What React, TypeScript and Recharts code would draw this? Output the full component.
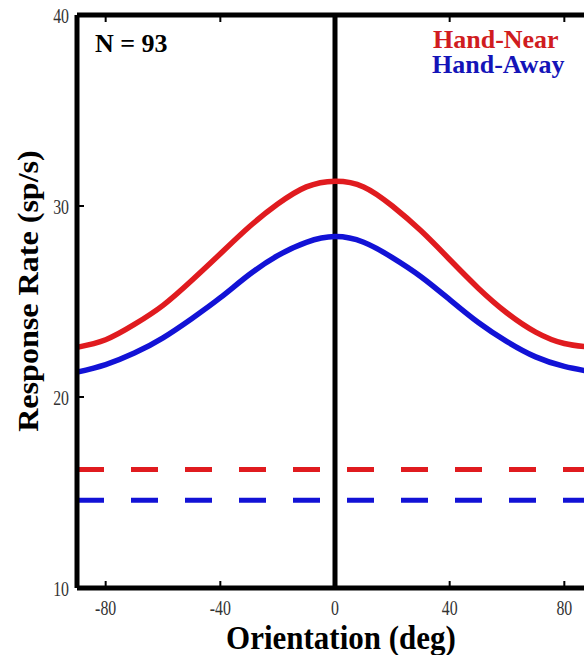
import React from 'react';
import {
  ComposedChart,
  Line,
  XAxis,
  YAxis,
  ReferenceLine,
} from 'recharts';

// orientation (deg) sampled along the tuning curves
const ORIENTATIONS = [-90, -80, -70, -60, -50, -40, -30, -20, -10, 0, 10, 20, 30, 40, 50, 60, 70, 80, 90];
const HAND_NEAR = [22.6, 23.0, 23.8, 24.8, 26.1, 27.5, 28.9, 30.1, 31.0, 31.3, 31.0, 30.0, 28.7, 27.2, 25.7, 24.4, 23.4, 22.8, 22.6];
const HAND_AWAY = [21.3, 21.7, 22.3, 23.1, 24.1, 25.2, 26.4, 27.4, 28.1, 28.4, 28.1, 27.3, 26.3, 25.1, 23.9, 22.9, 22.1, 21.6, 21.3];

// spontaneous (baseline) rates, dashed
const BASELINE_NEAR = 16.2;
const BASELINE_AWAY = 14.6;

const X_TICKS = [-80, -40, 0, 40, 80];
const Y_TICKS = [10, 20, 30, 40];

const RED = '#e01b1f';
const BLUE = '#1212d6';
const FONT = '"Liberation Serif", "Times New Roman", serif';

const data = ORIENTATIONS.map((deg, i) => ({
  deg,
  near: HAND_NEAR[i],
  away: HAND_AWAY[i],
}));

const XTick = (props: any) => {
  const { x, y, payload } = props;
  return (
    <g transform={`translate(${x},${y})`}>
      <text transform="scale(0.72,1)" textAnchor="middle" fontSize={22} fill="#333" fontFamily={FONT}>
        {payload.value}
      </text>
    </g>
  );
};

const YTick = (props: any) => {
  const { x, y, payload } = props;
  return (
    <g transform={`translate(${x},${y})`}>
      <text transform="scale(0.72,1)" textAnchor="end" dy="0.36em" fontSize={22} fill="#333" fontFamily={FONT}>
        {payload.value}
      </text>
    </g>
  );
};

const NoTick = () => <g />;

export default function App() {
  return (
    <div style={{ position: 'fixed', left: 0, top: 0, width: 584, height: 655, overflow: 'hidden', background: '#fff' }}>
      <ComposedChart width={600} height={655} data={data} margin={{ top: 14, right: 7, bottom: 0, left: 0 }}>
        <XAxis
          dataKey="deg"
          type="number"
          domain={[-90, 90]}
          ticks={X_TICKS}
          height={67}
          axisLine={{ stroke: '#000', strokeWidth: 5 }}
          tickLine={{ stroke: '#000', strokeWidth: 2 }}
          tickSize={-7}
          tickMargin={34}
          tick={<XTick />}
        />
        <XAxis
          xAxisId="top"
          orientation="top"
          dataKey="deg"
          type="number"
          domain={[-90, 90]}
          ticks={X_TICKS}
          height={1}
          axisLine={{ stroke: '#000', strokeWidth: 5 }}
          tickLine={{ stroke: '#000', strokeWidth: 2 }}
          tickSize={-7}
          tick={<NoTick />}
        />
        <YAxis
          type="number"
          domain={[10, 40]}
          ticks={Y_TICKS}
          width={77}
          axisLine={{ stroke: '#000', strokeWidth: 5 }}
          tickLine={{ stroke: '#000', strokeWidth: 2 }}
          tickSize={-7}
          tickMargin={15}
          tick={<YTick />}
        />
        <ReferenceLine x={0} stroke="#000" strokeWidth={5} />
        <ReferenceLine y={BASELINE_NEAR} stroke={RED} strokeWidth={5} strokeDasharray="27 27" />
        <ReferenceLine y={BASELINE_AWAY} stroke={BLUE} strokeWidth={5} strokeDasharray="27 27" />
        <Line dataKey="near" type="natural" stroke={RED} strokeWidth={5.5} dot={false} isAnimationActive={false} />
        <Line dataKey="away" type="natural" stroke={BLUE} strokeWidth={5.5} dot={false} isAnimationActive={false} />

        <text x={95} y={52} fontSize={26} fontWeight="bold" fontFamily={FONT} fill="#000">N = 93</text>
        <text x={433} y={48} fontSize={26} fontWeight="bold" fontFamily={FONT} fill="#d01c20">Hand-Near</text>
        <text x={432} y={73} fontSize={26} fontWeight="bold" fontFamily={FONT} fill="#1414b8">Hand-Away</text>
        <text
          transform="translate(38,291) rotate(-90) scale(1.07,1)"
          textAnchor="middle"
          fontSize={30}
          fontWeight="bold"
          fontFamily={FONT}
          fill="#000"
        >
          Response Rate (sp/s)
        </text>
        <text
          transform="translate(341,649) scale(1,1.1)"
          textAnchor="middle"
          fontSize={31}
          fontWeight="bold"
          fontFamily={FONT}
          fill="#000"
        >
          Orientation (deg)
        </text>
      </ComposedChart>
    </div>
  );
}
